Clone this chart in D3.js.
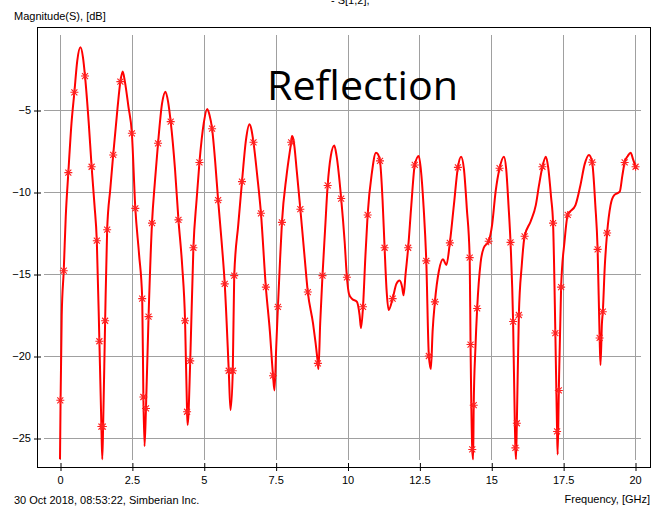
<!DOCTYPE html>
<html>
<head>
<meta charset="utf-8">
<script src="https://cdn.jsdelivr.net/npm/d3@7"></script>
<style>
  html, body { margin: 0; padding: 0; background: #fff; }
  svg { display: block; }
  text { font-family: "Liberation Sans", Arial, sans-serif; font-size: 11px; fill: #000; }
</style>
</head>
<body>
<svg width="656" height="510"></svg>
<script>
// trace S[1,2] magnitude, dB vs frequency, GHz
const freq = [
  0.00, 0.02, 0.06, 0.13, 0.20, 0.29, 0.40, 0.50, 0.60, 0.71, 0.80, 0.87, 1.00, 1.10, 1.20, 1.28,
  1.37, 1.44, 1.47, 1.50, 1.57, 1.64, 1.75, 1.85, 2.00, 2.10, 2.18, 2.26, 2.38, 2.50, 2.62, 2.75,
  2.86, 2.90, 2.94, 2.99, 3.08, 3.20, 3.30, 3.41, 3.55, 3.67, 3.76, 3.85, 4.00, 4.12, 4.25, 4.35,
  4.42, 4.44, 4.53, 4.64, 4.75, 4.85, 5.00, 5.12, 5.20, 5.29, 5.40, 5.50, 5.62, 5.73, 5.87, 5.93,
  6.01, 6.06, 6.20, 6.33, 6.47, 6.59, 6.66, 6.73, 6.86, 6.99, 7.16, 7.30, 7.41, 7.46, 7.52, 7.58,
  7.65, 7.72, 7.88, 8.04, 8.07, 8.12, 8.24, 8.36, 8.50, 8.62, 8.80, 8.97, 8.99, 9.05, 9.13, 9.22,
  9.31, 9.42, 9.54, 9.62, 9.78, 9.90, 9.98, 10.05, 10.15, 10.33, 10.42, 10.47, 10.54, 10.62, 10.70, 10.85,
  10.99, 11.06, 11.13, 11.22, 11.29, 11.36, 11.43, 11.57, 11.70, 11.81, 11.90, 11.95, 12.02, 12.11, 12.22, 12.34,
  12.48, 12.55, 12.65, 12.74, 12.83, 12.90, 12.96, 13.04, 13.18, 13.32, 13.44, 13.56, 13.70, 13.84, 13.95, 14.05,
  14.15, 14.25, 14.28, 14.34, 14.37, 14.39, 14.45, 14.51, 14.63, 14.74, 14.91, 15.03, 15.15, 15.29, 15.44, 15.52,
  15.60, 15.67, 15.76, 15.82, 15.84, 15.86, 15.89, 15.96, 16.06, 16.16, 16.37, 16.55, 16.66, 16.78, 16.90, 16.98,
  17.08, 17.15, 17.23, 17.29, 17.31, 17.35, 17.43, 17.55, 17.66, 17.93, 18.10, 18.25, 18.40, 18.51, 18.62, 18.70,
  18.77, 18.80, 18.85, 18.88, 18.95, 19.03, 19.15, 19.27, 19.47, 19.56, 19.64, 19.75, 19.85, 19.93, 20.02
];
const mag = [
  -26.3, -22.7, -17.5, -14.8, -11.5, -8.82, -5.8, -3.92, -2.0, -1.18, -1.8, -2.93, -5.8, -8.46, -10.8, -12.97,
  -19.1, -24.3, -26.3, -24.3, -17.85, -12.3, -9.8, -7.74, -4.9, -3.27, -2.66, -3.3, -4.8, -6.42, -11.0, -13.8,
  -16.5, -22.5, -25.5, -23.2, -17.6, -11.9, -9.4, -7.03, -4.6, -3.88, -4.5, -5.71, -8.6, -11.7, -14.5, -17.85,
  -23.4, -24.2, -20.3, -13.4, -10.5, -8.2, -5.8, -4.94, -5.3, -6.14, -8.2, -10.5, -13.0, -15.6, -20.9, -23.3,
  -20.9, -15.1, -12.0, -9.37, -6.8, -5.87, -6.2, -6.97, -9.0, -11.3, -15.8, -18.5, -21.2, -22.1, -19.5, -17.0,
  -14.3, -11.85, -9.0, -6.97, -6.59, -6.8, -8.8, -11.05, -13.8, -16.1, -18.0, -20.45, -20.8, -18.0, -15.1, -12.3,
  -9.6, -7.8, -7.17, -7.8, -10.4, -13.0, -15.2, -16.2, -16.5, -16.7, -17.5, -18.3, -17.0, -14.0, -11.4, -8.8,
  -7.6, -7.7, -8.1, -10.5, -13.4, -16.0, -17.2, -16.5, -15.6, -15.4, -15.8, -16.3, -15.0, -13.4, -10.8, -8.35,
  -7.8, -8.6, -11.0, -14.2, -20.0, -20.8, -18.5, -16.7, -14.8, -14.1, -14.45, -13.1, -10.8, -8.5, -7.85, -8.6,
  -11.0, -14.0, -19.3, -25.7, -26.3, -23.0, -19.5, -17.1, -14.3, -13.4, -13.0, -12.0, -10.0, -8.55, -7.85, -8.6,
  -10.8, -13.07, -17.9, -24.1, -25.6, -26.3, -24.1, -17.5, -14.5, -12.7, -11.8, -10.8, -9.6, -8.46, -7.85, -8.5,
  -10.3, -11.9, -18.6, -24.6, -26.0, -22.1, -15.8, -13.0, -11.4, -10.8, -9.6, -8.3, -7.74, -8.19, -10.8, -13.5,
  -18.9, -20.55, -18.0, -17.3, -14.5, -12.5, -10.8, -10.2, -9.98, -9.0, -8.2, -7.8, -7.6, -8.0, -8.46
];

// sample points shown with asterisks
const markFreq = [
  0.01, 0.13, 0.29, 0.50, 0.87, 1.10, 1.28, 1.37, 1.44, 1.49, 1.57, 1.64, 1.85, 2.10, 2.50, 2.62,
  2.86, 2.90, 2.99, 3.08, 3.20, 3.41, 3.85, 4.12, 4.35, 4.42, 4.53, 4.64, 4.85, 5.29, 5.50, 5.73,
  5.87, 6.01, 6.06, 6.33, 6.73, 6.99, 7.16, 7.41, 7.58, 7.72, 8.04, 8.36, 8.62, 8.97, 9.13, 9.31,
  9.78, 9.98, 10.54, 10.70, 11.13, 11.29, 11.57, 12.11, 12.34, 12.74, 12.83, 13.04, 13.56, 13.84, 14.25, 14.28,
  14.34, 14.39, 14.51, 14.91, 15.29, 15.67, 15.76, 15.84, 15.89, 15.96, 16.16, 16.78, 17.15, 17.23, 17.29, 17.35,
  17.43, 17.66, 18.51, 18.70, 18.77, 18.88, 19.03, 19.64, 20.02
];
const markMag = [
  -22.7, -14.8, -8.82, -3.92, -2.93, -8.46, -12.97, -19.1, -24.3, -24.3, -17.85, -12.3, -7.74, -3.27, -6.42, -11.0,
  -16.5, -22.5, -23.2, -17.6, -11.9, -7.03, -5.71, -11.7, -17.85, -23.4, -20.3, -13.4, -8.2, -6.14, -10.5, -15.6,
  -20.9, -20.9, -15.1, -9.37, -6.97, -11.3, -15.8, -21.2, -17.0, -11.85, -6.97, -11.05, -16.1, -20.45, -15.1, -9.6,
  -10.4, -15.2, -17.0, -11.4, -8.1, -13.4, -16.5, -13.4, -8.35, -14.2, -20.0, -16.7, -13.1, -8.5, -14.0, -19.3,
  -25.7, -23.0, -17.1, -13.0, -8.55, -13.07, -17.9, -25.6, -24.1, -17.5, -12.7, -8.46, -11.9, -18.6, -24.6, -22.1,
  -15.8, -11.4, -8.19, -13.5, -18.9, -17.3, -12.5, -8.2, -8.46
];

const xTicks = [0, 2.5, 5, 7.5, 10, 12.5, 15, 17.5, 20];
const yTicks = [-5, -10, -15, -20, -25];

const frame = { left: 37, right: 650, top: 27, bottom: 467 };

const svg = d3.select('svg');

const x = d3.scaleLinear().domain([0, 20]).range([60, 635]);
const y = d3.scaleLinear().domain([0, -25]).range([28, 438]);

// grid
svg.append('g')
    .selectAll('line')
    .data(xTicks)
    .join('line')
    .attr('x1', d => Math.round(x(d)) + 0.5)
    .attr('x2', d => Math.round(x(d)) + 0.5)
    .attr('y1', 35)
    .attr('y2', 460)
    .attr('stroke', '#a0a0a0')
    .attr('stroke-width', 1);

svg.append('g')
    .selectAll('line')
    .data(yTicks)
    .join('line')
    .attr('x1', 44)
    .attr('x2', 641)
    .attr('y1', d => Math.round(y(d)) + 0.5)
    .attr('y2', d => Math.round(y(d)) + 0.5)
    .attr('stroke', '#a0a0a0')
    .attr('stroke-width', 1);

// frame
svg.append('rect')
    .attr('x', frame.left + 0.5)
    .attr('y', frame.top + 0.5)
    .attr('width', frame.right - frame.left)
    .attr('height', frame.bottom - frame.top)
    .attr('fill', 'none')
    .attr('stroke', '#000')
    .attr('stroke-width', 1);

// x axis ticks + labels
const xAxis = d3.axisBottom(x)
    .tickValues(xTicks)
    .tickSize(8)
    .tickFormat(d3.format('~g'));
const gx = svg.append('g')
    .attr('transform', `translate(0, ${frame.bottom - 4})`)
    .call(xAxis);
gx.select('.domain').remove();
gx.selectAll('.tick line').attr('stroke', '#000').attr('transform', 'translate(0.5,0)');
gx.selectAll('.tick text')
    .attr('y', 13)
    .style('font-family', '"Liberation Sans", Arial, sans-serif')
    .style('font-size', '11px');

// y axis ticks + labels
const yAxis = d3.axisLeft(y)
    .tickValues(yTicks)
    .tickSize(7)
    .tickPadding(3);
const gy = svg.append('g')
    .attr('transform', `translate(${frame.left + 4}, 0)`)
    .call(yAxis);
gy.select('.domain').remove();
gy.selectAll('.tick line').attr('stroke', '#000').attr('transform', 'translate(0,0.5)');
gy.selectAll('.tick text')
    .attr('x', -10)
    .style('font-family', '"Liberation Sans", Arial, sans-serif')
    .style('font-size', '11px');

// clip to plot
svg.append('clipPath').attr('id', 'clip')
    .append('rect')
    .attr('x', frame.left + 1).attr('y', frame.top + 1)
    .attr('width', frame.right - frame.left - 1)
    .attr('height', frame.bottom - frame.top - 1);

const pts = freq.map((f, i) => [f, mag[i]]);
const line = d3.line()
    .x(d => x(d[0]))
    .y(d => y(d[1]))
    .curve(d3.curveMonotoneX);

svg.append('path')
    .datum(pts)
    .attr('clip-path', 'url(#clip)')
    .attr('d', line)
    .attr('fill', 'none')
    .attr('stroke', '#ff0000')
    .attr('stroke-width', 2)
    .attr('stroke-linejoin', 'round');

// asterisk symbol
const asterisk = {
    draw(ctx, size) {
        const r = Math.sqrt(size) / 2;
        const q = r * 0.75;
        ctx.moveTo(-r, 0); ctx.lineTo(r, 0);
        ctx.moveTo(0, -r); ctx.lineTo(0, r);
        ctx.moveTo(-q, -q); ctx.lineTo(q, q);
        ctx.moveTo(-q, q); ctx.lineTo(q, -q);
    }
};
const marks = markFreq.map((f, i) => [f, markMag[i]]);
svg.append('g')
    .selectAll('path')
    .data(marks)
    .join('path')
    .attr('transform', d => `translate(${x(d[0])}, ${y(d[1])})`)
    .attr('d', d3.symbol().type(asterisk).size(64))
    .attr('fill', 'none')
    .attr('stroke', '#ff2020')
    .attr('stroke-width', 1.1);

// texts
svg.append('text').attr('x', 14).attr('y', 20).text('Magnitude(S), [dB]');
svg.append('text').attr('x', 331).attr('y', 4).text('- S[1,2],');
svg.append('text').attr('x', 14).attr('y', 504).text('30 Oct 2018, 08:53:22, Simberian Inc.');
svg.append('text').attr('x', 650).attr('y', 503).attr('text-anchor', 'end').text('Frequency, [GHz]');

svg.append('text')
    .attr('x', 267)
    .attr('y', 100)
    .style('font-family', '"Open Sans", "Noto Sans", sans-serif')
    .style('font-size', '41px')
    .attr('textLength', 191)
    .attr('lengthAdjust', 'spacingAndGlyphs')
    .text('Reflection');
</script>
</body>
</html>
